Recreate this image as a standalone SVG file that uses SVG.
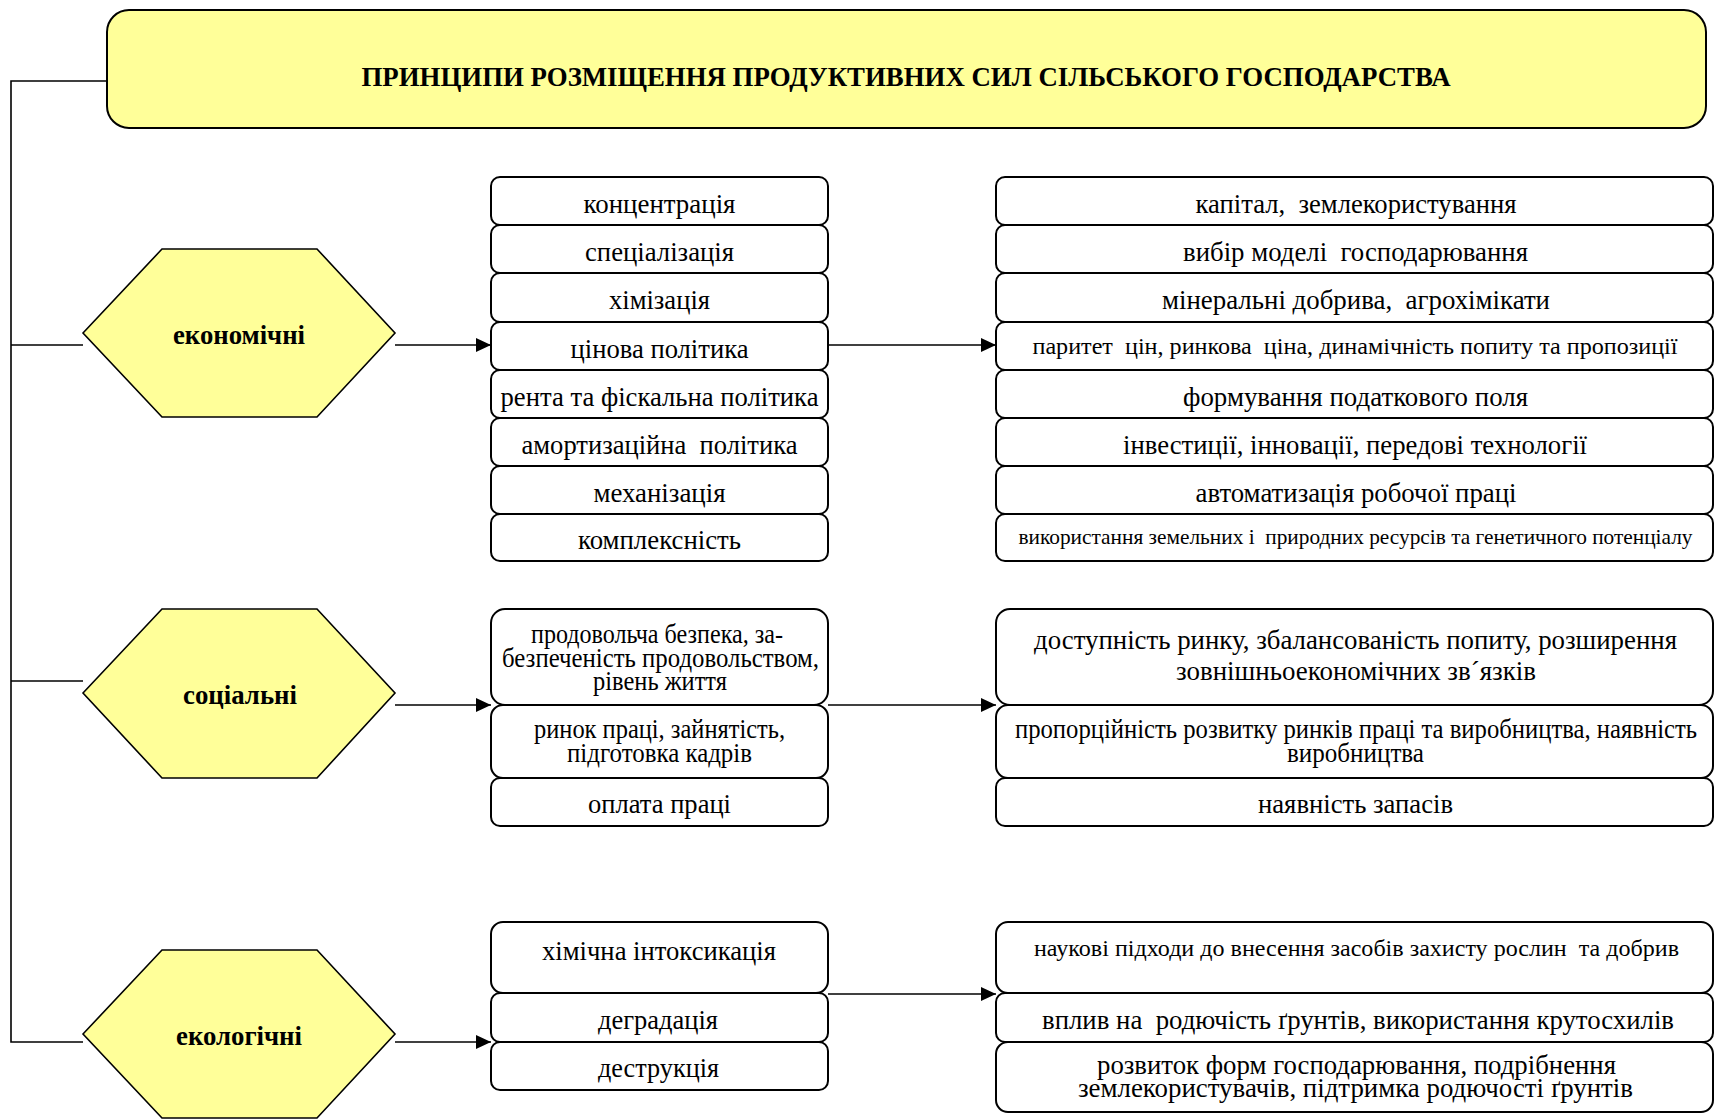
<svg xmlns="http://www.w3.org/2000/svg" width="1715" height="1119" viewBox="0 0 1715 1119">
<defs>
<style>
.box{fill:#fff;stroke:#000;stroke-width:2}
.hex{fill:#FFFF99;stroke:#000;stroke-width:1.6}
.ttl{fill:#FFFF99;stroke:#000;stroke-width:2}
.t{font-family:"Liberation Serif","Times New Roman",serif;font-size:27px;text-anchor:middle;fill:#000;white-space:pre}
.s{font-size:24px}
.xs{font-size:22px}
.b{font-weight:bold}
.conn{fill:none;stroke:#000;stroke-width:1.6}
</style>
<marker id="arr" markerWidth="16" markerHeight="16" refX="15" refY="7" orient="auto" markerUnits="userSpaceOnUse">
<path d="M0,0 L15,7 L0,14 z" fill="#000"/>
</marker>
</defs>

<g id="connectors">
<polyline class="conn" points="107,81 11,81 11,1042 83,1042"/>
<line class="conn" x1="11" y1="345" x2="83" y2="345"/>
<line class="conn" x1="11" y1="681" x2="83" y2="681"/>
<line class="conn" x1="395" y1="345" x2="491" y2="345" marker-end="url(#arr)"/>
<line class="conn" x1="395" y1="705" x2="491" y2="705" marker-end="url(#arr)"/>
<line class="conn" x1="395" y1="1042" x2="491" y2="1042" marker-end="url(#arr)"/>
<line class="conn" x1="828" y1="345" x2="996" y2="345" marker-end="url(#arr)"/>
<line class="conn" x1="828" y1="705" x2="996" y2="705" marker-end="url(#arr)"/>
<line class="conn" x1="828" y1="994" x2="996" y2="994" marker-end="url(#arr)"/>
</g>

<g id="title">
<rect class="ttl" x="107" y="10" width="1599" height="118" rx="22"/>
<text class="t b" x="906" y="86" font-size="26" textLength="1089" lengthAdjust="spacingAndGlyphs">ПРИНЦИПИ РОЗМІЩЕННЯ ПРОДУКТИВНИХ СИЛ СІЛЬСЬКОГО ГОСПОДАРСТВА</text>
</g>

<g id="hex-economic">
<polygon class="hex" points="83,333 162,249 317,249 395,333 317,417 162,417"/>
<text class="t b" x="239" y="344" font-size="28" textLength="132" lengthAdjust="spacingAndGlyphs">економічні</text>
</g>
<g id="hex-social">
<polygon class="hex" points="83,693 162,609 317,609 395,693 317,778 162,778"/>
<text class="t b" x="240" y="704" font-size="28" textLength="114" lengthAdjust="spacingAndGlyphs">соціальні</text>
</g>
<g id="hex-ecological">
<polygon class="hex" points="83,1034 162,950 317,950 395,1034 317,1118 162,1118"/>
<text class="t b" x="239" y="1045" font-size="28" textLength="126" lengthAdjust="spacingAndGlyphs">екологічні</text>
</g>

<g id="econ-left">
<g id="e1"><rect class="box" x="491" y="177" width="337" height="48" rx="9"/><text class="t" x="659.5" y="213" textLength="152" lengthAdjust="spacingAndGlyphs">концентрація</text></g>
<g id="e2"><rect class="box" x="491" y="225" width="337" height="48" rx="9"/><text class="t" x="659.5" y="261" textLength="149" lengthAdjust="spacingAndGlyphs">спеціалізація</text></g>
<g id="e3"><rect class="box" x="491" y="273" width="337" height="49" rx="9"/><text class="t" x="659.5" y="309" textLength="101" lengthAdjust="spacingAndGlyphs">хімізація</text></g>
<g id="e4"><rect class="box" x="491" y="322" width="337" height="48" rx="9"/><text class="t" x="659.5" y="358" textLength="178" lengthAdjust="spacingAndGlyphs">цінова політика</text></g>
<g id="e5"><rect class="box" x="491" y="370" width="337" height="48" rx="9"/><text class="t" x="659.5" y="406" textLength="318" lengthAdjust="spacingAndGlyphs">рента та фіскальна політика</text></g>
<g id="e6"><rect class="box" x="491" y="418" width="337" height="48" rx="9"/><text class="t" x="659.5" y="454" textLength="276" lengthAdjust="spacingAndGlyphs">амортизаційна  політика</text></g>
<g id="e7"><rect class="box" x="491" y="466" width="337" height="48" rx="9"/><text class="t" x="659.5" y="502" textLength="132" lengthAdjust="spacingAndGlyphs">механізація</text></g>
<g id="e8"><rect class="box" x="491" y="514" width="337" height="47" rx="9"/><text class="t" x="659.5" y="549" textLength="163" lengthAdjust="spacingAndGlyphs">комплексність</text></g>
</g>

<g id="econ-right">
<g id="er1"><rect class="box" x="996" y="177" width="717" height="48" rx="9"/><text class="t" x="1356" y="213" textLength="321" lengthAdjust="spacingAndGlyphs">капітал,  землекористування</text></g>
<g id="er2"><rect class="box" x="996" y="225" width="717" height="48" rx="9"/><text class="t" x="1355.5" y="261" textLength="345" lengthAdjust="spacingAndGlyphs">вибір моделі  господарювання</text></g>
<g id="er3"><rect class="box" x="996" y="273" width="717" height="49" rx="9"/><text class="t" x="1356" y="309" textLength="388" lengthAdjust="spacingAndGlyphs">мінеральні добрива,  агрохімікати</text></g>
<g id="er4"><rect class="box" x="996" y="322" width="717" height="48" rx="9"/><text class="t s" x="1355" y="354" textLength="645" lengthAdjust="spacingAndGlyphs">паритет  цін, ринкова  ціна, динамічність попиту та пропозиції</text></g>
<g id="er5"><rect class="box" x="996" y="370" width="717" height="48" rx="9"/><text class="t" x="1355.5" y="406" textLength="345" lengthAdjust="spacingAndGlyphs">формування податкового поля</text></g>
<g id="er6"><rect class="box" x="996" y="418" width="717" height="48" rx="9"/><text class="t" x="1355" y="454" textLength="464" lengthAdjust="spacingAndGlyphs">інвестиції, інновації, передові технології</text></g>
<g id="er7"><rect class="box" x="996" y="466" width="717" height="48" rx="9"/><text class="t" x="1356" y="502" textLength="321" lengthAdjust="spacingAndGlyphs">автоматизація робочої праці</text></g>
<g id="er8"><rect class="box" x="996" y="514" width="717" height="47" rx="9"/><text class="t xs" x="1355.5" y="544" textLength="674" lengthAdjust="spacingAndGlyphs">використання земельних і  природних ресурсів та генетичного потенціалу</text></g>
</g>

<g id="social-left">
<g id="s1"><rect class="box" x="491" y="609" width="337" height="96" rx="14"/>
<text class="t" x="657" y="643" font-size="25" textLength="252" lengthAdjust="spacingAndGlyphs">продовольча безпека, за-</text>
<text class="t" x="660.5" y="667" font-size="25" textLength="317" lengthAdjust="spacingAndGlyphs">безпеченість продовольством,</text>
<text class="t" x="660" y="690" font-size="25" textLength="134" lengthAdjust="spacingAndGlyphs">рівень життя</text></g>
<g id="s2"><rect class="box" x="491" y="705" width="337" height="73" rx="12"/>
<text class="t" x="659.5" y="738" font-size="25" textLength="251" lengthAdjust="spacingAndGlyphs">ринок праці, зайнятість,</text>
<text class="t" x="659.5" y="762" font-size="25" textLength="185" lengthAdjust="spacingAndGlyphs">підготовка кадрів</text></g>
<g id="s3"><rect class="box" x="491" y="778" width="337" height="48" rx="9"/>
<text class="t" x="659.5" y="813" textLength="143" lengthAdjust="spacingAndGlyphs">оплата праці</text></g>
</g>

<g id="social-right">
<g id="sr1"><rect class="box" x="996" y="609" width="717" height="96" rx="14"/>
<text class="t" x="1355.5" y="649" textLength="643" lengthAdjust="spacingAndGlyphs">доступність ринку, збалансованість попиту, розширення</text>
<text class="t" x="1356" y="680" textLength="360" lengthAdjust="spacingAndGlyphs">зовнішньоекономічних зв´язків</text></g>
<g id="sr2"><rect class="box" x="996" y="705" width="717" height="73" rx="12"/>
<text class="t" x="1356" y="738" font-size="25" textLength="682" lengthAdjust="spacingAndGlyphs">пропорційність розвитку ринків праці та виробництва, наявність</text>
<text class="t" x="1355.5" y="762" font-size="25" textLength="137" lengthAdjust="spacingAndGlyphs">виробництва</text></g>
<g id="sr3"><rect class="box" x="996" y="778" width="717" height="48" rx="9"/>
<text class="t" x="1355.5" y="813" textLength="195" lengthAdjust="spacingAndGlyphs">наявність запасів</text></g>
</g>

<g id="eco-left">
<g id="l1"><rect class="box" x="491" y="922" width="337" height="71" rx="12"/>
<text class="t" x="659" y="960" textLength="234" lengthAdjust="spacingAndGlyphs">хімічна інтоксикація</text></g>
<g id="l2"><rect class="box" x="491" y="993" width="337" height="49" rx="9"/>
<text class="t" x="658" y="1029" textLength="120" lengthAdjust="spacingAndGlyphs">деградація</text></g>
<g id="l3"><rect class="box" x="491" y="1042" width="337" height="48" rx="9"/>
<text class="t" x="658.5" y="1077" textLength="121" lengthAdjust="spacingAndGlyphs">деструкція</text></g>
</g>

<g id="eco-right">
<g id="r1"><rect class="box" x="996" y="922" width="717" height="71" rx="12"/>
<text class="t s" x="1356.5" y="956" textLength="645" lengthAdjust="spacingAndGlyphs">наукові підходи до внесення засобів захисту рослин  та добрив</text></g>
<g id="r2"><rect class="box" x="996" y="993" width="717" height="49" rx="9"/>
<text class="t" x="1358" y="1029" textLength="632" lengthAdjust="spacingAndGlyphs">вплив на  родючість ґрунтів, використання крутосхилів</text></g>
<g id="r3"><rect class="box" x="996" y="1042" width="717" height="70" rx="12"/>
<text class="t" x="1356.5" y="1074" font-size="25" textLength="519" lengthAdjust="spacingAndGlyphs">розвиток форм господарювання, подрібнення</text>
<text class="t" x="1355.5" y="1097" font-size="25" textLength="555" lengthAdjust="spacingAndGlyphs">землекористувачів, підтримка родючості ґрунтів</text></g>
</g>
</svg>
